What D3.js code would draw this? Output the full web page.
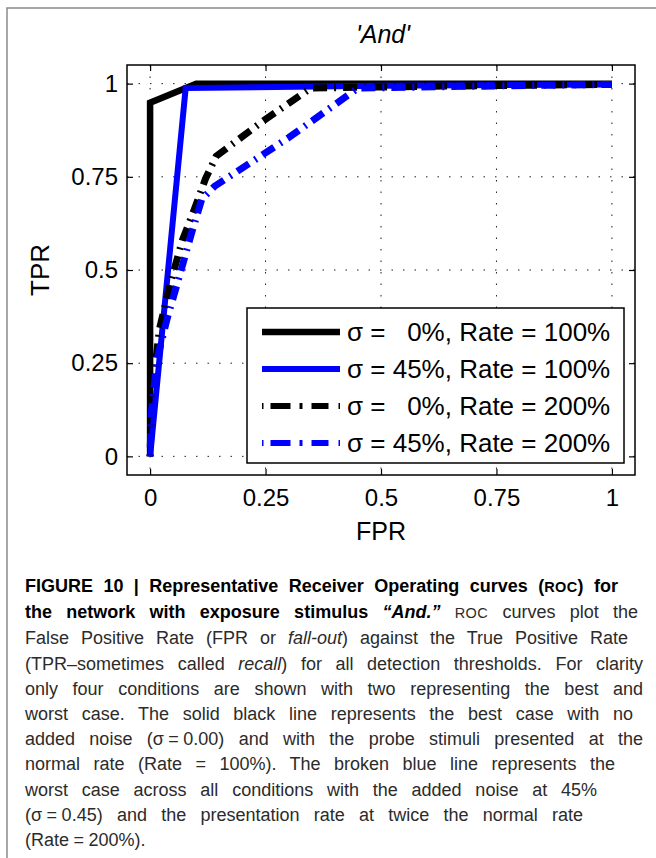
<!DOCTYPE html>
<html>
<head>
<meta charset="utf-8">
<script src="https://cdn.jsdelivr.net/npm/d3@7"></script>
<style>
  body { margin: 0; background: #fff; }
  #wrap { position: relative; width: 656px; height: 858px; overflow: hidden; }
  #chart { position: absolute; left: 0; top: 0; }
  .caption { position: absolute; left: 25px; top: 574px; font-family: "Liberation Sans", Arial, sans-serif;
             font-size: 18px; line-height: 25.2px; color: #2b2b2b; }
  .caption div { text-align: justify; text-align-last: justify; white-space: normal; }
  .caption div.last { text-align-last: left; }
  .caption b { color: #000; }
  .sc { font-size: 14.5px; letter-spacing: 0.4px; }
</style>
</head>
<body>
<div id="wrap">
  <svg id="chart" width="656" height="858"></svg>
  <div class="caption">
    <div style="width:593px"><b>FIGURE 10 | Representative Receiver Operating curves (<span class="sc">ROC</span>) for</b></div>
    <div style="width:613px"><b>the network with exposure stimulus <i>“And.”</i></b> <span class="sc">ROC</span> curves plot the</div>
    <div style="width:603px">False Positive Rate (FPR or <i>fall-out</i>) against the True Positive Rate</div>
    <div style="width:618px">(TPR–sometimes called <i>recall</i>) for all detection thresholds. For clarity</div>
    <div style="width:618px">only four conditions are shown with two representing the best and</div>
    <div style="width:608px">worst case. The solid black line represents the best case with no</div>
    <div style="width:618px">added noise (σ&#8197;=&#8197;0.00) and with the probe stimuli presented at the</div>
    <div style="width:590px">normal rate (Rate = 100%). The broken blue line represents the</div>
    <div style="width:572px">worst case across all conditions with the added noise at 45%</div>
    <div style="width:558px">(σ&#8197;=&#8197;0.45) and the presentation rate at twice the normal rate</div>
    <div class="last">(Rate&#8197;=&#8197;200%).</div>
  </div>
</div>
<script>
// ROC points (FPR, TPR)
const fprS0R100 = [0, 0, 0.1, 1];
const tprS0R100 = [0, 0.949, 1, 1];

const fprS45R100 = [0, 0.077, 0.5, 1];
const tprS45R100 = [0, 0.988, 0.994, 0.998];

const fprS0R200 = [0, 0.003, 0.02, 0.045, 0.07, 0.095, 0.12, 0.143, 0.245, 0.348, 0.6, 1];
const tprS0R200 = [0, 0.15, 0.34, 0.47, 0.58, 0.66, 0.745, 0.805, 0.9, 0.988, 0.993, 0.998];

const fprS45R200 = [0, 0.003, 0.015, 0.037, 0.065, 0.09, 0.112, 0.14, 0.3, 0.45, 0.7, 1];
const tprS45R200 = [0, 0.12, 0.26, 0.37, 0.49, 0.6, 0.69, 0.725, 0.855, 0.988, 0.993, 0.998];

const xTicks = [0, 0.25, 0.5, 0.75, 1];
const yTicks = [0, 0.25, 0.5, 0.75, 1];
const legendLabels = [
  "σ = \u20070%, Rate = 100%",
  "σ = 45%, Rate = 100%",
  "σ = \u20070%, Rate = 200%",
  "σ = 45%, Rate = 200%"
];
const titleText = "'And'";
const xLabel = "FPR";
const yLabel = "TPR";

const svg = d3.select("#chart");
const font = "'Liberation Sans', Arial, Helvetica, sans-serif";

// outer figure frame (top and left only)
svg.append("path")
  .attr("d", "M7,858 V8 H656")
  .attr("fill", "none")
  .attr("stroke", "#8a8a8a")
  .attr("stroke-width", 1.5);

const box = { left: 127, right: 635, top: 65, bottom: 475 };

const xScale = d3.scaleLinear().domain([-0.05, 1.05]).range([box.left, box.right]);
const yScale = d3.scaleLinear().domain([-0.05, 1.05]).range([box.bottom, box.top]);

// dotted grid
svg.append("g").selectAll("line")
  .data(xTicks)
  .enter().append("line")
  .attr("x1", d => xScale(d)).attr("x2", d => xScale(d))
  .attr("y1", box.top).attr("y2", box.bottom)
  .attr("stroke", "#222").attr("stroke-width", 1).attr("stroke-dasharray", "1.5,10");

svg.append("g").selectAll("line")
  .data(yTicks)
  .enter().append("line")
  .attr("x1", box.left).attr("x2", box.right)
  .attr("y1", d => yScale(d)).attr("y2", d => yScale(d))
  .attr("stroke", "#222").attr("stroke-width", 1).attr("stroke-dasharray", "1.5,10");

// curves
const series = [
  { fpr: fprS0R100, tpr: tprS0R100, color: "#000000", width: 6.5, dash: null },
  { fpr: fprS45R100, tpr: tprS45R100, color: "#0000ff", width: 6, dash: null },
  { fpr: fprS0R200, tpr: tprS0R200, color: "#000000", width: 7, dash: "2,7,14,7" },
  { fpr: fprS45R200, tpr: tprS45R200, color: "#0000ff", width: 7, dash: "2,7,14,7" }
];

const line = d3.line()
  .x(d => xScale(d[0]))
  .y(d => yScale(d[1]));

series.forEach(s => {
  svg.append("path")
    .datum(s.fpr.map((f, i) => [f, s.tpr[i]]))
    .attr("d", line)
    .attr("fill", "none")
    .attr("stroke", s.color)
    .attr("stroke-width", s.width)
    .attr("stroke-linejoin", "miter")
    .attr("stroke-dasharray", s.dash);
});

// axes with inward ticks on all four sides
function styleAxis(g) {
  g.select(".domain").remove();
  g.selectAll(".tick line").attr("stroke", "#000").attr("stroke-width", 1.2);
  g.selectAll(".tick text").attr("font-family", font).attr("font-size", 24).attr("fill", "#000");
}

svg.append("g")
  .attr("transform", `translate(0,${box.bottom})`)
  .call(d3.axisBottom(xScale).tickValues(xTicks).tickFormat(d3.format("")).tickSizeInner(-6).tickSizeOuter(0).tickPadding(14))
  .call(styleAxis);

svg.append("g")
  .attr("transform", `translate(${box.left},0)`)
  .call(d3.axisLeft(yScale).tickValues(yTicks).tickFormat(d3.format("")).tickSizeInner(-6).tickSizeOuter(0).tickPadding(9))
  .call(styleAxis);

svg.append("g")
  .attr("transform", `translate(0,${box.top})`)
  .call(d3.axisTop(xScale).tickValues(xTicks).tickFormat("").tickSizeInner(-6).tickSizeOuter(0))
  .call(styleAxis);

svg.append("g")
  .attr("transform", `translate(${box.right},0)`)
  .call(d3.axisRight(yScale).tickValues(yTicks).tickFormat("").tickSizeInner(-6).tickSizeOuter(0))
  .call(styleAxis);

svg.append("rect")
  .attr("x", box.left).attr("y", box.top)
  .attr("width", box.right - box.left).attr("height", box.bottom - box.top)
  .attr("fill", "none").attr("stroke", "#000").attr("stroke-width", 1.5);

// title and axis labels
svg.append("text")
  .attr("x", 383).attr("y", 43)
  .attr("text-anchor", "middle")
  .attr("font-family", font).attr("font-size", 25).attr("font-style", "italic")
  .text(titleText);

svg.append("text")
  .attr("x", 381).attr("y", 540)
  .attr("text-anchor", "middle")
  .attr("font-family", font).attr("font-size", 25)
  .text(xLabel);

svg.append("text")
  .attr("transform", "translate(49,270) rotate(-90)")
  .attr("text-anchor", "middle")
  .attr("font-family", font).attr("font-size", 26)
  .text(yLabel);

// legend
const legend = svg.append("g");
legend.append("rect")
  .attr("x", 247).attr("y", 308).attr("width", 377).attr("height", 155)
  .attr("fill", "#fff").attr("stroke", "#000").attr("stroke-width", 1.5);

const rowY = d3.scalePoint().domain(d3.range(legendLabels.length)).range([332, 443]);

series.forEach((s, i) => {
  legend.append("line")
    .attr("x1", 262).attr("x2", 340)
    .attr("y1", rowY(i)).attr("y2", rowY(i))
    .attr("stroke", s.color).attr("stroke-width", s.dash ? 6 : s.width)
    .attr("stroke-dasharray", s.dash ? "1.5,7,20,9,3,9,17,10" : null);
  legend.append("text")
    .attr("x", 347).attr("y", rowY(i)).attr("dy", "0.36em")
    .attr("font-family", font).attr("font-size", 26)
    .style("white-space", "pre")
    .text(legendLabels[i]);
});
</script>
</body>
</html>
